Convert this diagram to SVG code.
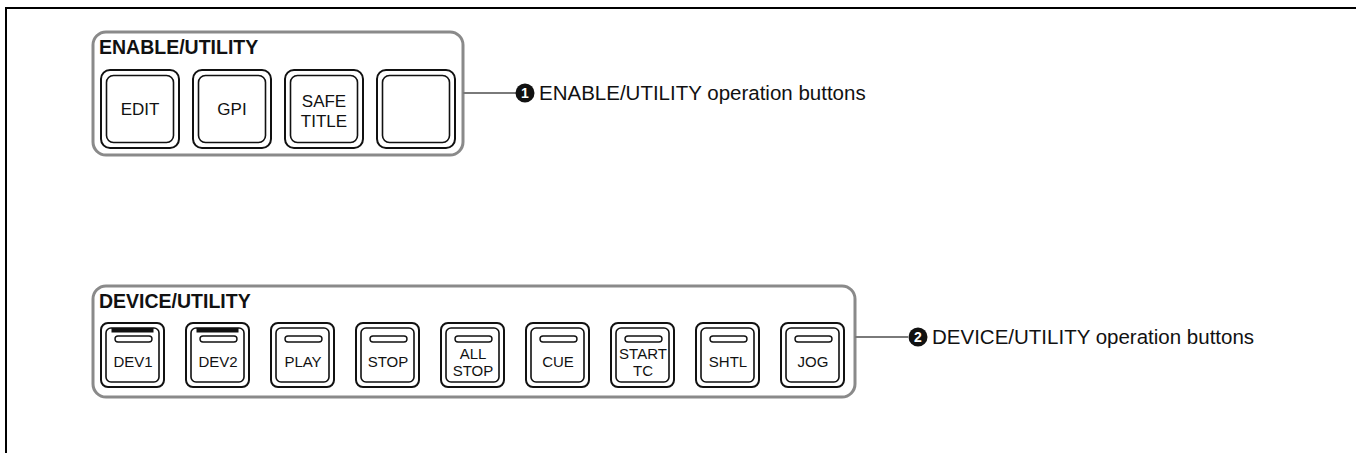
<svg xmlns="http://www.w3.org/2000/svg" width="1356" height="453" viewBox="0 0 1356 453">
  <style>
    .frame { fill: none; stroke: #000; stroke-width: 2; }
    .panel { fill: #fff; stroke: #8a8a8a; stroke-width: 3; }
    .btn-outer { fill: #fff; stroke: #111; stroke-width: 2; }
    .btn-inner { fill: #fff; stroke: #111; stroke-width: 1.6; }
    .led { fill: #fff; stroke: #111; stroke-width: 1.4; }
    .bar { fill: #111; }
    .title { font-family: "Liberation Sans", Arial, sans-serif; font-weight: bold; font-size: 19.5px; fill: #111; }
    .key { font-family: "Liberation Sans", Arial, sans-serif; font-size: 17px; fill: #111; text-anchor: middle; }
    .key-s { font-family: "Liberation Sans", Arial, sans-serif; font-size: 15px; fill: #111; text-anchor: middle; }
    .callout { font-family: "Liberation Sans", Arial, sans-serif; font-size: 20.5px; fill: #111; }
    .num { font-family: "Liberation Sans", Arial, sans-serif; font-weight: bold; font-size: 14px; fill: #fff; text-anchor: middle; }
    .conn { stroke: #7a7a7a; stroke-width: 2; fill: none; }
  </style>

  <!-- page frame: top and left rules -->
  <path class="frame" d="M6 453 V8 H1356"/>

  <!-- ENABLE/UTILITY panel -->
  <g id="enable-utility">
    <rect class="panel" x="93" y="32" width="370" height="123" rx="13"/>
    <text class="title" x="99" y="54">ENABLE/UTILITY</text>
    <g id="btn-edit">
      <rect class="btn-outer" x="101" y="70" width="78" height="78" rx="9"/>
      <rect class="btn-inner" x="106.5" y="75.5" width="67" height="67" rx="7"/>
      <text class="key" x="140" y="115">EDIT</text>
    </g>
    <g id="btn-gpi">
      <rect class="btn-outer" x="193" y="70" width="78" height="78" rx="9"/>
      <rect class="btn-inner" x="198.5" y="75.5" width="67" height="67" rx="7"/>
      <text class="key" x="232" y="115">GPI</text>
    </g>
    <g id="btn-safe-title">
      <rect class="btn-outer" x="285" y="70" width="78" height="78" rx="9"/>
      <rect class="btn-inner" x="290.5" y="75.5" width="67" height="67" rx="7"/>
      <text class="key" x="324" y="107">SAFE</text>
      <text class="key" x="324" y="127">TITLE</text>
    </g>
    <g id="btn-blank">
      <rect class="btn-outer" x="377" y="70" width="78" height="78" rx="9"/>
      <rect class="btn-inner" x="382.5" y="75.5" width="67" height="67" rx="7"/>
    </g>
  </g>

  <!-- DEVICE/UTILITY panel -->
  <g id="device-utility">
    <rect class="panel" x="93" y="286" width="762" height="111" rx="13"/>
    <text class="title" x="99" y="308">DEVICE/UTILITY</text>

    <g id="btn-dev1">
      <rect class="btn-outer" x="101" y="323" width="63" height="64" rx="7"/>
      <rect class="btn-inner" x="106" y="328" width="53" height="54" rx="5"/>
      <rect class="bar" x="111.5" y="328" width="42" height="4.5"/>
      <rect class="led" x="115" y="336" width="37" height="6" rx="3"/>
      <text class="key-s" x="133" y="367">DEV1</text>
    </g>
    <g id="btn-dev2">
      <rect class="btn-outer" x="186" y="323" width="63" height="64" rx="7"/>
      <rect class="btn-inner" x="191" y="328" width="53" height="54" rx="5"/>
      <rect class="bar" x="196.5" y="328" width="42" height="4.5"/>
      <rect class="led" x="200" y="336" width="37" height="6" rx="3"/>
      <text class="key-s" x="218" y="367">DEV2</text>
    </g>
    <g id="btn-play">
      <rect class="btn-outer" x="271" y="323" width="63" height="64" rx="7"/>
      <rect class="btn-inner" x="276" y="328" width="53" height="54" rx="5"/>
      <rect class="led" x="285" y="336" width="37" height="6" rx="3"/>
      <text class="key-s" x="303" y="367">PLAY</text>
    </g>
    <g id="btn-stop">
      <rect class="btn-outer" x="356" y="323" width="63" height="64" rx="7"/>
      <rect class="btn-inner" x="361" y="328" width="53" height="54" rx="5"/>
      <rect class="led" x="370" y="336" width="37" height="6" rx="3"/>
      <text class="key-s" x="388" y="367">STOP</text>
    </g>
    <g id="btn-all-stop">
      <rect class="btn-outer" x="441" y="323" width="63" height="64" rx="7"/>
      <rect class="btn-inner" x="446" y="328" width="53" height="54" rx="5"/>
      <rect class="led" x="455" y="336" width="37" height="6" rx="3"/>
      <text class="key-s" x="473" y="359">ALL</text>
      <text class="key-s" x="473" y="376">STOP</text>
    </g>
    <g id="btn-cue">
      <rect class="btn-outer" x="526" y="323" width="63" height="64" rx="7"/>
      <rect class="btn-inner" x="531" y="328" width="53" height="54" rx="5"/>
      <rect class="led" x="540" y="336" width="37" height="6" rx="3"/>
      <text class="key-s" x="558" y="367">CUE</text>
    </g>
    <g id="btn-start-tc">
      <rect class="btn-outer" x="611" y="323" width="63" height="64" rx="7"/>
      <rect class="btn-inner" x="616" y="328" width="53" height="54" rx="5"/>
      <rect class="led" x="625" y="336" width="37" height="6" rx="3"/>
      <text class="key-s" x="643" y="359">START</text>
      <text class="key-s" x="643" y="376">TC</text>
    </g>
    <g id="btn-shtl">
      <rect class="btn-outer" x="696" y="323" width="63" height="64" rx="7"/>
      <rect class="btn-inner" x="701" y="328" width="53" height="54" rx="5"/>
      <rect class="led" x="710" y="336" width="37" height="6" rx="3"/>
      <text class="key-s" x="728" y="367">SHTL</text>
    </g>
    <g id="btn-jog">
      <rect class="btn-outer" x="781" y="323" width="63" height="64" rx="7"/>
      <rect class="btn-inner" x="786" y="328" width="53" height="54" rx="5"/>
      <rect class="led" x="795" y="336" width="37" height="6" rx="3"/>
      <text class="key-s" x="813" y="367">JOG</text>
    </g>
  </g>

  <!-- leader lines -->
  <g id="connectors">
    <line class="conn" x1="463" y1="93" x2="516" y2="93"/>
    <line class="conn" x1="855" y1="337" x2="908" y2="337"/>
  </g>

  <!-- numbered callouts -->
  <g id="callout-1">
    <circle cx="525" cy="93" r="9.5" fill="#111"/>
    <text class="num" x="525" y="98">1</text>
    <text class="callout" x="539" y="100">ENABLE/UTILITY operation buttons</text>
  </g>
  <g id="callout-2">
    <circle cx="918" cy="337" r="9.5" fill="#111"/>
    <text class="num" x="918" y="342">2</text>
    <text class="callout" x="932" y="344">DEVICE/UTILITY operation buttons</text>
  </g>
</svg>
